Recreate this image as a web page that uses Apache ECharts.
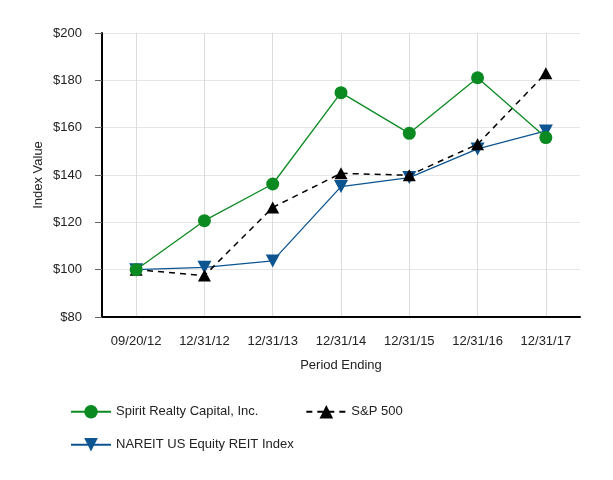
<!DOCTYPE html>
<html><head><meta charset="utf-8">
<script src="https://cdn.jsdelivr.net/npm/echarts@6/dist/echarts.min.js"></script>
<style>html,body{margin:0;padding:0;background:#fff}#c{width:613px;height:480px}</style>
</head><body><div id="c"></div>
<script>
const categories = ['09/20/12','12/31/12','12/31/13','12/31/14','12/31/15','12/31/16','12/31/17'];
const spirit = [100, 120.7, 136.2, 174.8, 157.6, 181.1, 155.8];
const sp500 = [100, 97.5, 126.3, 140.7, 139.9, 153.0, 183.0];
const nareit = [100, 101.0, 103.7, 135.1, 138.9, 151.0, 158.6];
const yTicks = {min: 80, max: 200, interval: 20};

const font = 'Liberation Sans, Arial, sans-serif';
const green = '#0c8a22', black = '#000000', blue = '#0d5590';
const downTri = 'path://M0,0 L10,0 L5,9 Z';

const chart = echarts.init(document.getElementById('c'));
chart.setOption({
  animation: false,
  grid: {left: 102, right: 33, top: 33, bottom: 163},
  xAxis: {
    type: 'category', data: categories, boundaryGap: true,
    name: 'Period Ending', nameLocation: 'middle', nameGap: 42,
    nameTextStyle: {fontFamily: font, fontSize: 13, color: '#222'},
    axisLine: {lineStyle: {color: '#000', width: 2}},
    axisTick: {alignWithLabel: true, length: 7, lineStyle: {color: '#666'}},
    axisLabel: {fontFamily: font, fontSize: 13, color: '#222', margin: 18},
    splitLine: {show: true, alignWithLabel: true, lineStyle: {color: '#dcdcdc', width: 1}}
  },
  yAxis: {
    type: 'value', min: yTicks.min, max: yTicks.max, interval: yTicks.interval,
    name: 'Index Value', nameLocation: 'middle', nameGap: 57, nameMoveOverlap: false,
    nameTextStyle: {fontFamily: font, fontSize: 13, color: '#222'},
    axisLine: {show: true, lineStyle: {color: '#000', width: 2}},
    axisTick: {show: true, length: 7, lineStyle: {color: '#666'}},
    axisLabel: {fontFamily: font, fontSize: 13, color: '#222', margin: 20, formatter: v => '$' + v},
    splitLine: {show: true, lineStyle: {color: '#e6e6e6', width: 1}}
  },
  legend: [
    {data: ['Spirit Realty Capital, Inc.', 'S&P 500'], left: 65, top: 400, itemWidth: 40, itemHeight: 17, itemGap: 47,
     textStyle: {fontFamily: font, fontSize: 13, color: '#222'}},
    {data: ['NAREIT US Equity REIT Index'], left: 65, top: 433, itemWidth: 40, itemHeight: 17,
     textStyle: {fontFamily: font, fontSize: 13, color: '#222'}}
  ],
  series: [
    {name: 'NAREIT US Equity REIT Index', type: 'line', data: nareit, symbol: downTri, symbolSize: [14, 13],
     lineStyle: {color: blue, width: 1.3}, itemStyle: {color: blue}, z: 2},
    {name: 'S&P 500', type: 'line', data: sp500, symbol: 'triangle', symbolSize: [13, 12],
     lineStyle: {color: black, width: 1.5, type: [6, 5]}, itemStyle: {color: black}, z: 3},
    {name: 'Spirit Realty Capital, Inc.', type: 'line', data: spirit, symbol: 'circle', symbolSize: 13,
     lineStyle: {color: green, width: 1.3}, itemStyle: {color: green}, z: 4}
  ]
});
</script></body></html>
